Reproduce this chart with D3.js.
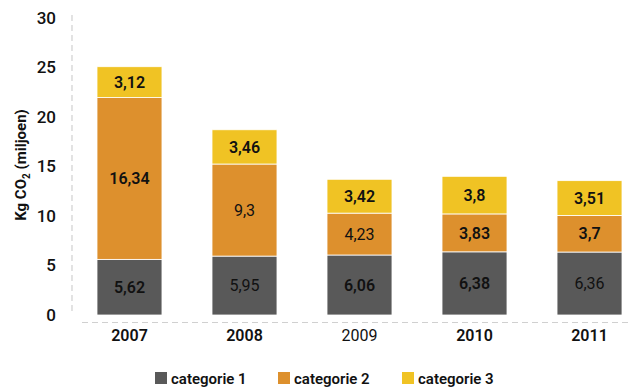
<!DOCTYPE html>
<html>
<head>
<meta charset="utf-8">
<script src="https://cdn.jsdelivr.net/npm/d3@7"></script>
<style>
  html, body { margin: 0; padding: 0; background: #fff; }
  svg { display: block; font-family: Roboto, "Open Sans", sans-serif; }
</style>
</head>
<body>
<svg id="chart" width="628" height="387"></svg>
<script>
// Emissions per year, split over three categories (Kg CO2, miljoen)
const years = ["2007", "2008", "2009", "2010", "2011"];
const seriesNames = ["categorie 1", "categorie 2", "categorie 3"];
const categorie1 = [5.62, 5.95, 6.06, 6.38, 6.36];
const categorie2 = [16.34, 9.3, 4.23, 3.83, 3.7];
const categorie3 = [3.12, 3.46, 3.42, 3.8, 3.51];
const yTicks = [0, 5, 10, 15, 20, 25, 30];

// Labels typeset in the lighter weight
const lightLabels = new Set(["2008|0", "2008|1", "2009|1", "2011|0"]);
const lightYears = new Set(["2009"]);

const colors = ["#595959", "#DD902D", "#F0C324"];

const rows = years.map((y, i) => ({
  year: y,
  "categorie 1": categorie1[i],
  "categorie 2": categorie2[i],
  "categorie 3": categorie3[i]
}));

const svg = d3.select("#chart");

const x = d3.scaleBand().domain(years).range([97, 622]).paddingInner(0.435).paddingOuter(0);
const y = d3.scaleLinear().domain([0, 30]).range([315, 18]);

const fmt = v => String(v).replace(".", ",");

// Dashed axis lines
svg.append("line")
  .attr("x1", 72).attr("x2", 72)
  .attr("y1", 15).attr("y2", 313)
  .attr("stroke", "#d0d0d0").attr("stroke-width", 1.2)
  .attr("stroke-dasharray", "6,4");
svg.append("line")
  .attr("x1", 82).attr("x2", 628)
  .attr("y1", 322.5).attr("y2", 322.5)
  .attr("stroke", "#d0d0d0").attr("stroke-width", 1.2)
  .attr("stroke-dasharray", "6,4");

// Y axis ticks
const yAxis = d3.axisLeft(y).tickValues(yTicks).tickSize(0).tickPadding(0);
const yg = svg.append("g").attr("transform", "translate(56,0)").call(yAxis);
yg.select(".domain").remove();
yg.selectAll("text")
  .attr("font-size", 17).attr("fill", "#111").attr("font-weight", 500)
  .attr("font-family", "Roboto, sans-serif");

// X axis labels
const xAxis = d3.axisBottom(x).tickSize(0).tickPadding(0);
const xg = svg.append("g").attr("transform", "translate(0,330)").call(xAxis);
xg.select(".domain").remove();
xg.selectAll("text")
  .attr("font-size", 16).attr("fill", "#111")
  .attr("font-weight", d => lightYears.has(d) ? 400 : 600)
  .attr("font-family", "Roboto, sans-serif");

// Y axis title
const title = svg.append("text")
  .attr("transform", "translate(26,165) rotate(-90)")
  .attr("text-anchor", "middle")
  .attr("font-size", 15).attr("font-weight", 700).attr("fill", "#111");
title.append("tspan").text("Kg CO");
title.append("tspan").text("2").attr("font-size", 10).attr("dy", 4);
title.append("tspan").text(" (miljoen)").attr("dy", -4);

// Stacked bars
const stack = d3.stack().keys(seriesNames);
const layers = stack(rows);

const layerG = svg.append("g").selectAll("g")
  .data(layers).join("g")
  .attr("fill", (d, i) => colors[i]);

layerG.selectAll("rect")
  .data(d => d)
  .join("rect")
  .attr("x", d => x(d.data.year))
  .attr("width", x.bandwidth())
  .attr("y", d => y(d[1]))
  .attr("height", d => y(d[0]) - y(d[1]))
  .attr("stroke", "#fff").attr("stroke-width", 0.8);

// Value labels centred in each segment
layers.forEach((layer, li) => {
  svg.append("g").selectAll("text")
    .data(layer)
    .join("text")
    .attr("x", d => x(d.data.year) + x.bandwidth() / 2)
    .attr("y", d => (y(d[0]) + y(d[1])) / 2)
    .attr("dy", "0.36em")
    .attr("text-anchor", "middle")
    .attr("font-size", 16)
    .attr("fill", "#111")
    .attr("font-weight", d => lightLabels.has(d.data.year + "|" + li) ? 400 : 600)
    .text(d => fmt(d.data[layer.key]));
});

// Legend
const legendX = [155, 278, 402];
const lg = svg.append("g");
seriesNames.forEach((name, i) => {
  lg.append("rect")
    .attr("x", legendX[i]).attr("y", 372)
    .attr("width", 12).attr("height", 12)
    .attr("fill", colors[i]);
  lg.append("text")
    .attr("x", legendX[i] + 16).attr("y", 384)
    .attr("font-size", 15).attr("font-weight", 600).attr("fill", "#111")
    .text(name);
});
</script>
</body>
</html>
